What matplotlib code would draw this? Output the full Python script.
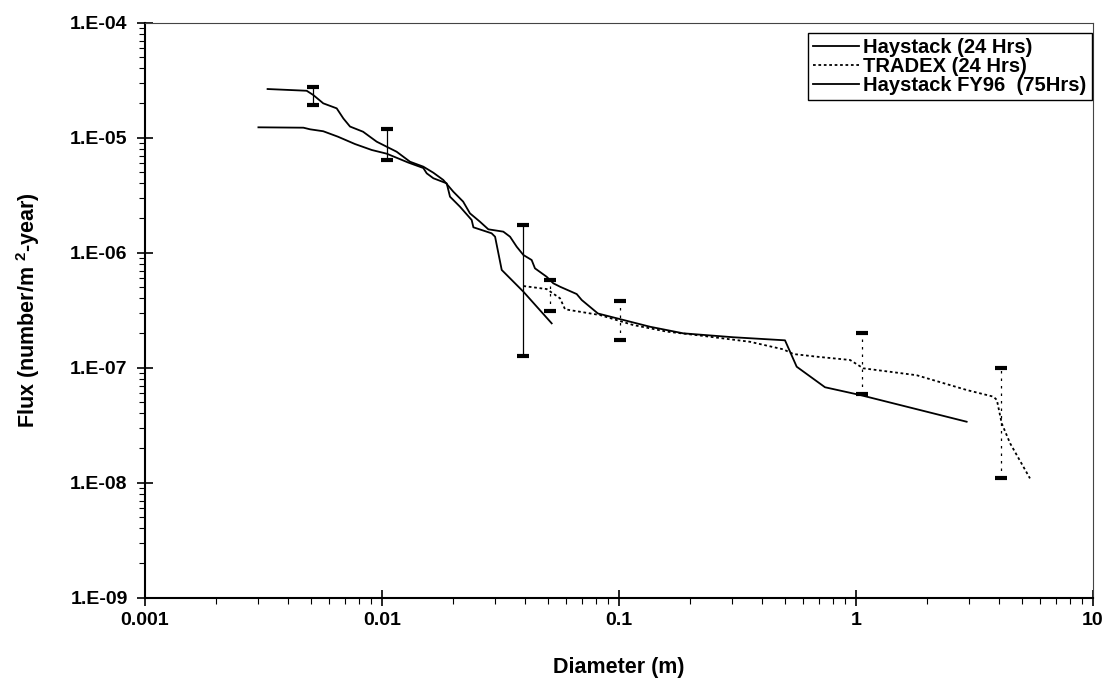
import matplotlib
matplotlib.use("Agg")
import matplotlib.pyplot as plt
from matplotlib.ticker import LogLocator, FixedLocator, FixedFormatter, NullFormatter

plt.rcParams['font.family'] = ['Liberation Sans', 'DejaVu Sans']
plt.rcParams['font.weight'] = 'bold'
plt.rcParams['mathtext.fontset'] = 'custom'
plt.rcParams['mathtext.rm'] = 'Liberation Sans'
plt.rcParams['mathtext.bf'] = 'Liberation Sans:bold'

# Haystack (24 Hrs)
hay24_d = [0.00301, 0.00466, 0.00497, 0.00565, 0.00652, 0.00769, 0.00905, 0.01047,
           0.01288, 0.01494, 0.01544, 0.01647, 0.01875, 0.01936, 0.02134, 0.0239,
           0.0243, 0.0290, 0.0300, 0.0320, 0.0395, 0.0520]
hay24_f = [1.231e-5, 1.222e-5, 1.183e-5, 1.138e-5, 1.02e-5, 8.81e-6, 7.82e-6, 7.26e-6,
           6.09e-6, 5.45e-6, 4.90e-6, 4.44e-6, 4.01e-6, 3.07e-6, 2.51e-6, 1.924e-6,
           1.663e-6, 1.475e-6, 1.377e-6, 7.08e-7, 4.58e-7, 2.43e-7]

# TRADEX (24 Hrs)
tradex_d = [0.0395, 0.0495, 0.0564, 0.0592, 0.0831, 0.1148, 0.1589, 0.2197, 0.357,
            0.493, 0.544, 0.682, 0.944, 1.073, 1.803, 2.93, 3.80, 3.93, 4.12, 4.47, 5.42]
tradex_f = [5.13e-7, 4.83e-7, 4.01e-7, 3.22e-7, 2.87e-7, 2.35e-7, 2.06e-7, 1.905e-7,
            1.68e-7, 1.445e-7, 1.315e-7, 1.247e-7, 1.167e-7, 9.88e-8, 8.6e-8, 6.40e-8,
            5.60e-8, 5.24e-8, 3.28e-8, 2.2e-8, 1.09e-8]

# Haystack FY96 (75Hrs)
fy96_d = [0.00329, 0.00481, 0.00513, 0.00565, 0.00644, 0.00687, 0.00733, 0.00832,
          0.0095, 0.01153, 0.01313, 0.01494, 0.01647, 0.01814, 0.0200, 0.0220, 0.0235,
          0.0259, 0.0281, 0.0325, 0.0347, 0.0370, 0.0395, 0.0428, 0.0442, 0.0495,
          0.0528, 0.0564, 0.0663, 0.0696, 0.0815, 0.0978, 0.1352, 0.1868, 0.3035,
          0.5017, 0.562, 0.740, 1.04, 2.93]
fy96_f = [2.65e-5, 2.56e-5, 2.35e-5, 1.99e-5, 1.80e-5, 1.47e-5, 1.25e-5, 1.127e-5,
          9.23e-6, 7.55e-6, 6.18e-6, 5.60e-6, 4.96e-6, 4.29e-6, 3.39e-6, 2.78e-6, 2.20e-6,
          1.86e-6, 1.597e-6, 1.524e-6, 1.377e-6, 1.128e-6, 9.55e-7, 8.64e-7, 7.31e-7,
          6.18e-7, 5.42e-7, 5.06e-7, 4.37e-7, 3.88e-7, 2.96e-7, 2.69e-7, 2.27e-7,
          1.99e-7, 1.84e-7, 1.73e-7, 1.02e-7, 6.76e-8, 5.79e-8, 3.39e-8]

# error bars: diameter, low, high
hay_err_d = [0.00513, 0.01053, 0.0392]
hay_err_lo = [1.91e-5, 6.40e-6, 1.264e-7]
hay_err_hi = [2.78e-5, 1.197e-5, 1.73e-6]
tdx_err_d = [0.0512, 0.1009, 1.057, 4.08]
tdx_err_lo = [3.13e-7, 1.74e-7, 5.9e-8, 1.10e-8]
tdx_err_hi = [5.79e-7, 3.83e-7, 2.0e-7, 9.94e-8]

W, H = 1107, 683
fig = plt.figure(figsize=(W / 100, H / 100), dpi=100)
ax = fig.add_axes([145 / W, 1 - 597.7 / H, (1093 - 145) / W, (597.7 - 22.7) / H])
ax.set_xscale('log')
ax.set_yscale('log')
ax.set_xlim(1e-3, 10)
ax.set_ylim(1e-9, 1e-4)

ax.plot(hay24_d, hay24_f, color='black', lw=1.3, label='Haystack (24 Hrs)')
ax.plot(tradex_d, tradex_f, color='black', lw=1.3, ls=(0, (1.5, 1.5)), label='TRADEX (24 Hrs)')
ax.plot(fy96_d, fy96_f, color='black', lw=1.3, label='Haystack FY96  (75Hrs)')

for d, lo, hi in zip(hay_err_d, hay_err_lo, hay_err_hi):
    ax.plot([d, d], [lo, hi], color='black', lw=0.9)
for d, lo, hi in zip(tdx_err_d, tdx_err_lo, tdx_err_hi):
    ax.plot([d, d], [lo, hi], color='black', lw=0.9, ls=(0, (2, 4)))
cap_d = hay_err_d + tdx_err_d
ax.plot(cap_d + cap_d, hay_err_lo + tdx_err_lo + hay_err_hi + tdx_err_hi,
        ls='none', marker='_', markersize=8.5, markeredgewidth=3, color='black')

# ticks
ax.yaxis.set_major_locator(FixedLocator([1e-9, 1e-8, 1e-7, 1e-6, 1e-5, 1e-4]))
ax.yaxis.set_major_formatter(FixedFormatter(['1.E-09', '1.E-08', '1.E-07', '1.E-06', '1.E-05', '1.E-04']))
ax.yaxis.set_minor_locator(LogLocator(base=10, subs=range(2, 10), numticks=20))
ax.yaxis.set_minor_formatter(NullFormatter())
ax.xaxis.set_major_locator(FixedLocator([1e-3, 1e-2, 1e-1, 1, 10]))
ax.xaxis.set_major_formatter(FixedFormatter(['0.001', '0.01', '0.1', '1', '10']))
ax.xaxis.set_minor_locator(LogLocator(base=10, subs=range(2, 10), numticks=20))
ax.xaxis.set_minor_formatter(NullFormatter())
ax.tick_params(which='major', direction='inout', length=11, width=1.2, labelsize=14)
ax.tick_params(which='minor', direction='out', length=4, width=0.8)
ax.tick_params(axis='y', which='major', pad=7)
ax.tick_params(axis='x', which='major', pad=5)
for lab in ax.get_xticklabels() + ax.get_yticklabels():
    lab.set_fontweight('bold')

for side in ('left', 'bottom'):
    ax.spines[side].set_linewidth(1.5)
for side in ('top', 'right'):
    ax.spines[side].set_linewidth(0.8)
    ax.spines[side].set_color('#444444')
    ax.spines[side].set_linestyle((0, (3, 1)))

ax.set_xlabel('Diameter (m)', fontsize=15.5, fontweight='bold', va='center')
ax.set_ylabel(r'Flux (number/m $^{\mathbf{2}}$-year)', fontsize=15.5, fontweight='bold', va='center')
ax.xaxis.set_label_coords(0.5, (597.7 - 667) / 575)
ax.yaxis.set_label_coords((28 - 145) / 948, 0.5)

leg = ax.legend(loc='upper right', bbox_to_anchor=(1091.7 / W, 1 - 32.7 / H),
                bbox_transform=fig.transFigure, borderaxespad=0, fancybox=False,
                framealpha=1, edgecolor='black', fontsize=14.5, handlelength=2.3,
                handletextpad=0.2, labelspacing=0.0, borderpad=0.25)
leg.get_frame().set_linewidth(1.0)
for t in leg.get_texts():
    t.set_fontweight('bold')

fig.savefig('out.png', dpi=100)
